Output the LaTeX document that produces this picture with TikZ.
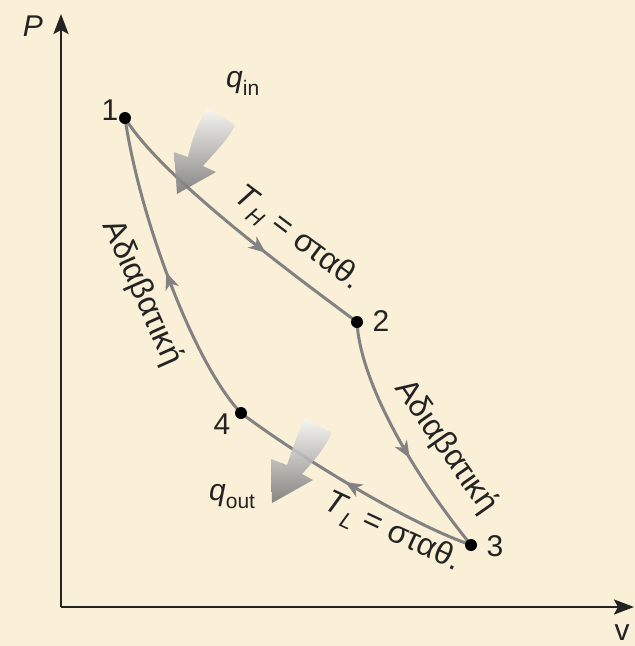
\documentclass[tikz,border=0pt]{standalone}
\usepackage{fontspec}
\setmainfont{Liberation Sans}
\usetikzlibrary{arrows.meta,decorations.markings}
\definecolor{bgcream}{RGB}{250,240,215}
\definecolor{curvegray}{RGB}{130,130,130}
\definecolor{axisdark}{RGB}{35,35,35}
\definecolor{arrlight}{RGB}{247,247,247}
\definecolor{arrdark}{RGB}{118,118,118}
\newcommand\lowsub[1]{\raisebox{-8pt}{\fontsize{21}{24}\selectfont #1}}
\newcommand\lowsubb[1]{\raisebox{-8pt}{\fontsize{22}{24}\selectfont #1}}
\begin{document}
\begin{tikzpicture}[x=1pt,y=-1pt,
  lbl/.style={font=\fontsize{30}{36}\selectfont, text=axisdark, inner sep=0pt},
  clbl/.style={font=\fontsize{32}{38}\selectfont, text=axisdark, inner sep=0pt},
  dot/.style={circle, fill=black, minimum size=12pt, inner sep=0pt},
  axis/.style={line width=2.5pt, draw=axisdark, -{Stealth[length=20pt,width=15pt,inset=4pt]}},
  proc/.style={line width=3pt, draw=curvegray,
    postaction={decorate, decoration={markings, mark=at position #1 with {\arrow[curvegray]{Stealth[length=17pt,width=14pt,inset=5pt]}}}}},
  heat/.style={top color=arrlight, bottom color=arrdark, opacity=0.88}
]
\useasboundingbox (0,0) rectangle (635,646);
\fill[bgcream] (0,0) rectangle (635,646);

% axes
\coordinate (O) at (61,607);
\coordinate (Ptop) at (61,14);
\coordinate (Vend) at (634,607);
\draw[axis] (O) -- (Ptop);
\draw[axis] (O) -- (Vend);
\node[lbl] (Plbl) at (33,26) {\textit{P}};
\node[lbl] (vlbl) at (622,633) {v};

% state points
\coordinate (c1) at (125,118);
\coordinate (c2) at (357,322);
\coordinate (c3) at (471,545);
\coordinate (c4) at (241,413);

% processes
\draw[proc=0.63] (c1) .. controls (160,175) and (280,265) .. (c2);
\draw[proc=0.58] (c2) .. controls (360,380) and (410,470) .. (c3);
\draw[proc=0.53] (c3) .. controls (400,520) and (290,450) .. (c4);
\draw[proc=0.5]  (c4) .. controls (195,365) and (140,220) .. (c1);

% heat arrows
\shade[heat] (207,108) .. controls (197,125) and (192,140) .. (188,157)
   -- (174,152) -- (177,194) -- (216,172) -- (203,166)
   .. controls (215,152) and (228,140) .. (235,125) -- cycle;
\shade[heat] (305,418) .. controls (297,435) and (292,450) .. (287,465)
   -- (271,459) -- (272,503) -- (313,480) -- (302,474)
   .. controls (315,460) and (325,447) .. (332,433) -- cycle;

% dots
\node[dot] (p1) at (c1) {};
\node[dot] (p2) at (c2) {};
\node[dot] (p3) at (c3) {};
\node[dot] (p4) at (c4) {};

% labels
\node[lbl] (l1) at (110,110) {1};
\node[lbl] (l2) at (381,321) {2};
\node[lbl] (l3) at (495,546) {3};
\node[lbl] (l4) at (222,424) {4};

\node[lbl, anchor=base west] (qin) at (226,87) {\textit{q}\lowsub{in}};
\node[lbl, anchor=base west] (qout) at (209,500) {\textit{q}\lowsub{out}};

\node[clbl, rotate=-37] (TH) at (297,239) {\textit{T}\lowsubb{\textit{H}} = σταθ.};
\node[clbl, rotate=-25] (TL) at (392,533) {\textit{T}\lowsubb{\textit{L}} = σταθ.};
\node[clbl, rotate=-55] (ad23) at (446,447) {Αδιαβατική};
\node[clbl, rotate=-66] (ad41) at (142,293) {Αδιαβατική};
\end{tikzpicture}
\end{document}
